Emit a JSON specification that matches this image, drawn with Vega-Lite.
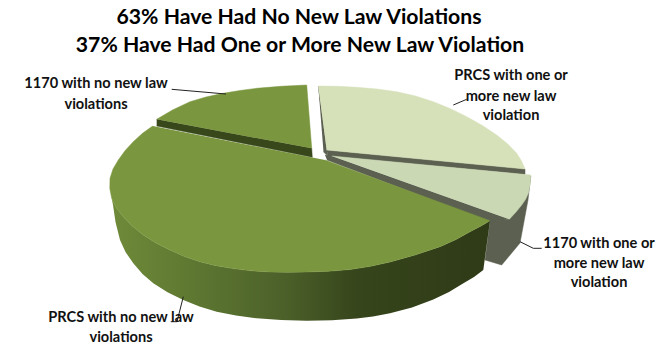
{
  "$schema": "https://vega.github.io/schema/vega-lite/v6.json",
  "width": 667,
  "height": 347,
  "padding": 0,
  "autosize": "none",
  "background": "white",
  "view": {"stroke": null},
  "datasets": {
    "outline": [
      {"part":"light_prcs_top","i":0,"x":318.3,"y":86},{"part":"light_prcs_top","i":1,"x":337.5,"y":86.3},{"part":"light_prcs_top","i":2,"x":356.7,"y":87.3},{"part":"light_prcs_top","i":3,"x":377,"y":89},{"part":"light_prcs_top","i":4,"x":396.7,"y":91.7},{"part":"light_prcs_top","i":5,"x":415.5,"y":96},{"part":"light_prcs_top","i":6,"x":433.3,"y":101.7},{"part":"light_prcs_top","i":7,"x":450.5,"y":108.7},{"part":"light_prcs_top","i":8,"x":466.7,"y":116.7},{"part":"light_prcs_top","i":9,"x":482,"y":125.3},{"part":"light_prcs_top","i":10,"x":496.7,"y":135},{"part":"light_prcs_top","i":11,"x":507.5,"y":143.8},{"part":"light_prcs_top","i":12,"x":516.7,"y":153.3},{"part":"light_prcs_top","i":13,"x":521.5,"y":161},{"part":"light_prcs_top","i":14,"x":525,"y":169},{"part":"light_prcs_top","i":15,"x":326.7,"y":150},
      {"part":"grey_wall","g":"a","i":0,"x":326.7,"y":150},{"part":"grey_wall","g":"a","i":1,"x":525,"y":169},{"part":"grey_wall","g":"a","i":2,"x":525,"y":174.5},{"part":"grey_wall","g":"a","i":3,"x":328,"y":156},
      {"part":"grey_wall","g":"b","i":0,"x":318.3,"y":86},{"part":"grey_wall","g":"b","i":1,"x":326.7,"y":150},{"part":"grey_wall","g":"b","i":2,"x":328,"y":156},{"part":"grey_wall","g":"b","i":3,"x":323.5,"y":152},
      {"part":"grey_wall","g":"c","i":0,"x":325,"y":155},{"part":"grey_wall","g":"c","i":1,"x":331.7,"y":156},{"part":"grey_wall","g":"c","i":2,"x":509.3,"y":219.3},{"part":"grey_wall","g":"c","i":3,"x":490,"y":222},{"part":"grey_wall","g":"c","i":4,"x":327,"y":160},
      {"part":"grey_wall","g":"d","i":0,"x":509.3,"y":219.3},{"part":"grey_wall","g":"d","i":1,"x":528.3,"y":193.3},{"part":"grey_wall","g":"d","i":2,"x":530.7,"y":176},{"part":"grey_wall","g":"d","i":3,"x":528,"y":200},{"part":"grey_wall","g":"d","i":4,"x":520,"y":243},{"part":"grey_wall","g":"d","i":5,"x":501.7,"y":265},{"part":"grey_wall","g":"d","i":6,"x":485,"y":260},{"part":"grey_wall","g":"d","i":7,"x":490,"y":221},
      {"part":"light_1170_top","i":0,"x":331.7,"y":156},{"part":"light_1170_top","i":1,"x":530.7,"y":175},{"part":"light_1170_top","i":2,"x":530.2,"y":184.5},{"part":"light_1170_top","i":3,"x":528.3,"y":193.3},{"part":"light_1170_top","i":4,"x":525.5,"y":199.5},{"part":"light_1170_top","i":5,"x":521.7,"y":205},{"part":"light_1170_top","i":6,"x":516,"y":212},{"part":"light_1170_top","i":7,"x":509.3,"y":219.3},
      {"part":"dark_wall","i":0,"x":156.7,"y":119.3},{"part":"dark_wall","i":1,"x":311.7,"y":148.3},{"part":"dark_wall","i":2,"x":312.3,"y":157.3},{"part":"dark_wall","i":3,"x":156.7,"y":126},
      {"part":"small_top","i":0,"x":156.7,"y":119.3},{"part":"small_top","i":1,"x":172.5,"y":110},{"part":"small_top","i":2,"x":190,"y":101.7},{"part":"small_top","i":3,"x":206,"y":97},{"part":"small_top","i":4,"x":223.3,"y":93.3},{"part":"small_top","i":5,"x":240,"y":90.5},{"part":"small_top","i":6,"x":256.7,"y":88.3},{"part":"small_top","i":7,"x":281,"y":86.3},{"part":"small_top","i":8,"x":306.7,"y":85},{"part":"small_top","i":9,"x":311.7,"y":148.3},
      {"part":"big_wall","i":0,"x":111.7,"y":198.3},{"part":"big_wall","i":1,"x":116.5,"y":208},{"part":"big_wall","i":2,"x":123.3,"y":216.7},{"part":"big_wall","i":3,"x":132.5,"y":226.3},{"part":"big_wall","i":4,"x":143.3,"y":235},{"part":"big_wall","i":5,"x":156,"y":243},{"part":"big_wall","i":6,"x":170,"y":250},{"part":"big_wall","i":7,"x":184.5,"y":256.5},{"part":"big_wall","i":8,"x":200,"y":261.7},{"part":"big_wall","i":9,"x":216,"y":265.7},{"part":"big_wall","i":10,"x":233.3,"y":268.6},{"part":"big_wall","i":11,"x":251.5,"y":270.8},{"part":"big_wall","i":12,"x":270,"y":272},{"part":"big_wall","i":13,"x":288,"y":272.3},{"part":"big_wall","i":14,"x":306.7,"y":272},{"part":"big_wall","i":15,"x":328,"y":271.3},{"part":"big_wall","i":16,"x":350,"y":269.5},{"part":"big_wall","i":17,"x":370.5,"y":266.3},{"part":"big_wall","i":18,"x":390,"y":262},{"part":"big_wall","i":19,"x":415,"y":255},{"part":"big_wall","i":20,"x":440,"y":246.7},{"part":"big_wall","i":21,"x":456,"y":239.5},{"part":"big_wall","i":22,"x":470,"y":231.7},{"part":"big_wall","i":23,"x":481,"y":226},{"part":"big_wall","i":24,"x":490,"y":220.7},
      {"part":"big_wall","i":25,"x":483.3,"y":270},{"part":"big_wall","i":26,"x":474,"y":277},{"part":"big_wall","i":27,"x":463,"y":283.5},{"part":"big_wall","i":28,"x":449,"y":292},{"part":"big_wall","i":29,"x":433.3,"y":299.5},{"part":"big_wall","i":30,"x":412,"y":307.5},{"part":"big_wall","i":31,"x":390,"y":313.3},{"part":"big_wall","i":32,"x":373,"y":316.5},{"part":"big_wall","i":33,"x":356.7,"y":318.6},{"part":"big_wall","i":34,"x":332,"y":320.2},{"part":"big_wall","i":35,"x":306.7,"y":320.7},{"part":"big_wall","i":36,"x":281,"y":320},{"part":"big_wall","i":37,"x":256.7,"y":318.3},{"part":"big_wall","i":38,"x":236,"y":315.5},{"part":"big_wall","i":39,"x":216.7,"y":311.7},{"part":"big_wall","i":40,"x":199.5,"y":306.5},{"part":"big_wall","i":41,"x":183.3,"y":300},{"part":"big_wall","i":42,"x":167.5,"y":292.3},{"part":"big_wall","i":43,"x":153.3,"y":283.3},{"part":"big_wall","i":44,"x":142.5,"y":274},{"part":"big_wall","i":45,"x":133.3,"y":263.3},{"part":"big_wall","i":46,"x":125.5,"y":252},{"part":"big_wall","i":47,"x":120,"y":240},{"part":"big_wall","i":48,"x":115.5,"y":222},{"part":"big_wall","i":49,"x":113,"y":205},
      {"part":"big_top","i":0,"x":152.7,"y":126},{"part":"big_top","i":1,"x":142.5,"y":133.3},{"part":"big_top","i":2,"x":133.3,"y":141.7},{"part":"big_top","i":3,"x":125.2,"y":150.5},{"part":"big_top","i":4,"x":118.3,"y":160},{"part":"big_top","i":5,"x":113,"y":169},{"part":"big_top","i":6,"x":110,"y":178.3},{"part":"big_top","i":7,"x":109.8,"y":188.5},{"part":"big_top","i":8,"x":111.7,"y":198.3},{"part":"big_top","i":9,"x":116.5,"y":208},{"part":"big_top","i":10,"x":123.3,"y":216.7},{"part":"big_top","i":11,"x":132.5,"y":226.3},{"part":"big_top","i":12,"x":143.3,"y":235},{"part":"big_top","i":13,"x":156,"y":243},{"part":"big_top","i":14,"x":170,"y":250},{"part":"big_top","i":15,"x":184.5,"y":256.5},{"part":"big_top","i":16,"x":200,"y":261.7},{"part":"big_top","i":17,"x":216,"y":265.7},{"part":"big_top","i":18,"x":233.3,"y":268.6},{"part":"big_top","i":19,"x":251.5,"y":270.8},{"part":"big_top","i":20,"x":270,"y":272},{"part":"big_top","i":21,"x":288,"y":272.3},{"part":"big_top","i":22,"x":306.7,"y":272},{"part":"big_top","i":23,"x":328,"y":271.3},{"part":"big_top","i":24,"x":350,"y":269.5},{"part":"big_top","i":25,"x":370.5,"y":266.3},{"part":"big_top","i":26,"x":390,"y":262},{"part":"big_top","i":27,"x":415,"y":255},{"part":"big_top","i":28,"x":440,"y":246.7},{"part":"big_top","i":29,"x":456,"y":239.5},{"part":"big_top","i":30,"x":470,"y":231.7},{"part":"big_top","i":31,"x":481,"y":226},{"part":"big_top","i":32,"x":490,"y":220.7},{"part":"big_top","i":33,"x":325,"y":160}
    ],
    "leaders": [
      {"g":"a","i":0,"x":171.7,"y":89.3},{"g":"a","i":1,"x":226,"y":94},
      {"g":"b","i":0,"x":183.3,"y":296.7},{"g":"b","i":1,"x":177,"y":321.7},{"g":"b","i":2,"x":170.7,"y":321.7},
      {"g":"c","i":0,"x":453.3,"y":105},{"g":"c","i":1,"x":466.7,"y":99.3},
      {"g":"d","i":0,"x":520,"y":241.7},{"g":"d","i":1,"x":533.3,"y":248.3},{"g":"d","i":2,"x":541.7,"y":248.3}
    ],
    "labels": [
      {"t":"1170 with no new law","x":96,"y":84},{"t":"violations","x":96,"y":105},
      {"t":"PRCS with one or","x":511,"y":76},{"t":"more new law","x":511,"y":96.5},{"t":"violation","x":511,"y":116},
      {"t":"1170 with one or","x":599,"y":244},{"t":"more new law","x":599,"y":263.5},{"t":"violation","x":599,"y":283},
      {"t":"PRCS with no new law","x":121,"y":318},{"t":"violations","x":121,"y":338}
    ],
    "headings": [
      {"t":"63% Have Had No New Law Violations","x":299,"y":18},
      {"t":"37% Have Had One or More New Law Violation","x":300,"y":46}
    ]
  },
  "encoding": {
    "x": {"field":"x","type":"quantitative","axis":null,"scale":{"domain":[0,667],"nice":false,"zero":false}},
    "y": {"field":"y","type":"quantitative","axis":null,"scale":{"domain":[347,0],"nice":false,"zero":false}}
  },
  "layer": [
    {"data":{"name":"outline"},"transform":[{"filter":"datum.part==='grey_wall'"}],
     "mark":{"type":"line","fill":"#5b6050","stroke":"#5b6050","strokeWidth":0.5,"interpolate":"linear"},
     "encoding":{"detail":{"field":"g"},"order":{"field":"i","type":"quantitative"}}},
    {"data":{"name":"outline"},"transform":[{"filter":"datum.part==='light_prcs_top'"}],
     "mark":{"type":"line","fill":"#d6e0b9","stroke":"#d6e0b9","strokeWidth":0.5,"interpolate":"linear"},
     "encoding":{"order":{"field":"i","type":"quantitative"}}},
    {"data":{"name":"outline"},"transform":[{"filter":"datum.part==='light_1170_top'"}],
     "mark":{"type":"line","fill":"#cbd8b4","stroke":"#cbd8b4","strokeWidth":0.5,"interpolate":"linear"},
     "encoding":{"order":{"field":"i","type":"quantitative"}}},
    {"data":{"name":"outline"},"transform":[{"filter":"datum.part==='dark_wall'"}],
     "mark":{"type":"line","fill":"#38481a","stroke":"#38481a","strokeWidth":0.5,"interpolate":"linear"},
     "encoding":{"order":{"field":"i","type":"quantitative"}}},
    {"data":{"name":"outline"},"transform":[{"filter":"datum.part==='small_top'"}],
     "mark":{"type":"line","fill":"#7a963e","stroke":"#7a963e","strokeWidth":0.5,"interpolate":"linear"},
     "encoding":{"order":{"field":"i","type":"quantitative"}}},
    {"data":{"name":"outline"},"transform":[{"filter":"datum.part==='big_wall'"}],
     "mark":{"type":"line","stroke":null,"interpolate":"linear",
       "fill":{"gradient":"linear","x1":0,"y1":0,"x2":1,"y2":0,"stops":[
         {"offset":0,"color":"#6f8a39"},{"offset":0.2,"color":"#5f7932"},{"offset":0.45,"color":"#4c612a"},{"offset":0.65,"color":"#36451b"},{"offset":1,"color":"#2f3a17"}]}},
     "encoding":{"order":{"field":"i","type":"quantitative"}}},
    {"data":{"name":"outline"},"transform":[{"filter":"datum.part==='big_top'"}],
     "mark":{"type":"line","fill":"#7a963e","stroke":"#7a963e","strokeWidth":0.5,"interpolate":"linear"},
     "encoding":{"order":{"field":"i","type":"quantitative"}}},
    {"data":{"name":"leaders"},
     "mark":{"type":"line","stroke":"#222222","strokeWidth":1,"interpolate":"linear"},
     "encoding":{"detail":{"field":"g"},"order":{"field":"i","type":"quantitative"}}},
    {"data":{"name":"labels"},
     "mark":{"type":"text","font":"Lato","fontWeight":"bold","fontSize":14.6,"color":"#111111","align":"center","baseline":"middle"},
     "encoding":{"text":{"field":"t"}}},
    {"data":{"name":"headings"},
     "mark":{"type":"text","font":"Lato","fontWeight":"bold","fontSize":21.2,"color":"#000000","align":"center","baseline":"middle"},
     "encoding":{"text":{"field":"t"}}}
  ]
}
